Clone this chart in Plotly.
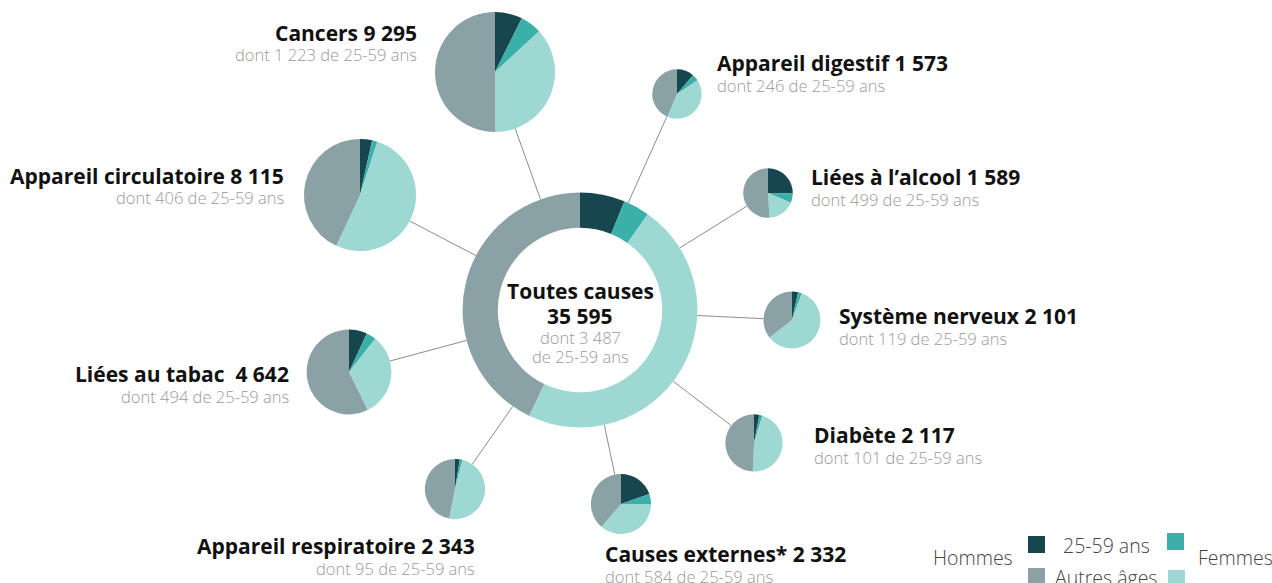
import math
import plotly.graph_objects as go

W, H = 1272, 583

# ---- data ----
causes = ["Toutes causes", "Cancers", "Appareil digestif", "Liées à l’alcool",
          "Système nerveux", "Diabète", "Causes externes*", "Appareil respiratoire",
          "Liées au tabac ", "Appareil circulatoire"]
totals = [35595, 9295, 1573, 1589, 2101, 2117, 2332, 2343, 4642, 8115]
dont_25_59 = [3487, 1223, 246, 499, 119, 101, 584, 95, 494, 406]
hommes_25_59 = [2200, 685, 177, 403, 72, 64, 458, 60, 321, 283]
femmes_25_59 = [1287, 538, 69, 96, 47, 37, 125, 35, 173, 123]
femmes_autres = [16850, 3416, 639, 280, 1236, 972, 847, 1149, 1491, 4213]
hommes_autres = [15258, 4656, 688, 810, 746, 1044, 902, 1099, 2657, 3496]
slice_labels = ["Hommes 25-59 ans", "Femmes 25-59 ans", "Femmes autres âges", "Hommes autres âges"]

# ---- layout (pixel positions of pie centres and labels) ----
centres = [(580, 310), (495, 72), (677, 94), (768, 193), (792, 320), (754, 443),
           (621, 504), (455, 489), (349, 372), (360, 195)]
label_pos = [None, (419, 33, "right"), (715, 63, "left"), (809, 177, "left"),
             (837, 316, "left"), (812, 435, "left"), (603, 554, "left"),
             (477, 546, "right"), (291, 374, "right"), (286, 176, "right")]

C_DARK, C_TEAL, C_LIGHT, C_GREY = "#17464e", "#3bb0a8", "#9ed8d3", "#8aa2a5"
FONT = "Open Sans"
colors = [C_DARK, C_TEAL, C_LIGHT, C_GREY]

scale = 60 / math.sqrt(totals[1])


def fmt(n):
    return f"{n:,}".replace(",", " ")


fig = go.Figure()
shapes = []
annotations = []

radii = [scale * math.sqrt(t) for t in totals]
cx0, cy0 = centres[0]
for i in range(len(causes)):
    cx, cy = centres[i]
    r = radii[i]
    vals = [hommes_25_59[i], femmes_25_59[i], femmes_autres[i], hommes_autres[i]]
    fig.add_trace(go.Pie(
        values=vals, labels=slice_labels, sort=False, direction="clockwise",
        rotation=0, hole=0.70 if i == 0 else 0, textinfo="none",
        marker=dict(colors=colors, line=dict(width=0)),
        domain=dict(x=[(cx - r) / W, (cx + r) / W], y=[1 - (cy + r) / H, 1 - (cy - r) / H]),
        showlegend=False, hoverinfo="label+value",
    ))
    if i > 0:
        dx, dy = cx - cx0, cy - cy0
        d = math.hypot(dx, dy)
        ux, uy = dx / d, dy / d
        x1, y1 = cx0 + ux * radii[0], cy0 + uy * radii[0]
        x2, y2 = cx - ux * r, cy - uy * r
        shapes.append(dict(type="line", xref="paper", yref="paper",
                           x0=x1 / W, y0=1 - y1 / H, x1=x2 / W, y1=1 - y2 / H,
                           line=dict(color="#8c8c8c", width=1), layer="below"))
        lx, ly, anc = label_pos[i]
        annotations.append(dict(x=lx / W, y=1 - ly / H, xref="paper", yref="paper",
                                text=f"<b>{causes[i]} {fmt(totals[i])}</b>", showarrow=False,
                                xanchor=anc, yanchor="middle",
                                font=dict(family=FONT, size=21, color="#111111")))
        annotations.append(dict(x=lx / W, y=1 - (ly + 22) / H, xref="paper", yref="paper",
                                text=f"dont {fmt(dont_25_59[i])} de 25-59 ans", showarrow=False,
                                xanchor=anc, yanchor="middle",
                                font=dict(family=FONT, size=16.5, color="#9a9a9a", weight=300)))

# centre text
for txt, y, sz, col, b in [(causes[0], 291, 21, "#111111", True),
                           (fmt(totals[0]), 316, 21, "#111111", True),
                           (f"dont {fmt(dont_25_59[0])}", 337, 16.5, "#9a9a9a", False),
                           ("de 25-59 ans", 356, 16.5, "#9a9a9a", False)]:
    annotations.append(dict(x=cx0 / W, y=1 - y / H, xref="paper", yref="paper",
                            text=f"<b>{txt}</b>" if b else txt, showarrow=False,
                            xanchor="center", yanchor="middle",
                            font=dict(family=FONT, size=sz, color=col,
                                      weight=None if b else 300)))

# custom legend
for (x, y, c) in [(1028, 536, C_DARK), (1167, 533, C_TEAL), (1028, 568, C_GREY), (1168, 570, C_LIGHT)]:
    shapes.append(dict(type="rect", xref="paper", yref="paper",
                       x0=x / W, x1=(x + 17) / W, y0=1 - (y + 17) / H, y1=1 - y / H,
                       fillcolor=c, line=dict(width=0)))
for txt, x, y, anc in [("Hommes", 1015, 557, "right"), ("25-59 ans", 1106, 545, "center"),
                       ("Autres âges", 1106, 577, "center"), ("Femmes", 1196, 557, "left")]:
    annotations.append(dict(x=x / W, y=1 - y / H, xref="paper", yref="paper", text=txt,
                            showarrow=False, xanchor=anc, yanchor="middle",
                            font=dict(family=FONT, size=19.5, color="#444444", weight=300)))

fig.update_layout(width=W, height=H, margin=dict(l=0, r=0, t=0, b=0),
                  paper_bgcolor="white", plot_bgcolor="white",
                  shapes=shapes, annotations=annotations, showlegend=False)
fig.write_html("out.html", config={"displayModeBar": False},
               post_script="document.body.style.margin='0px';document.body.style.overflow='hidden';")
